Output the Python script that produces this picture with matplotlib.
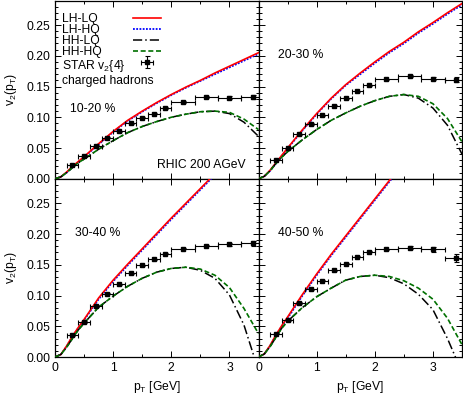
import matplotlib
matplotlib.use("Agg")
import matplotlib.pyplot as plt
from matplotlib.lines import Line2D
from matplotlib.ticker import MultipleLocator, FormatStrFormatter

plt.rcParams['font.family'] = ['Liberation Sans', 'DejaVu Sans']
plt.rcParams['mathtext.default'] = 'regular'
FS = 8.7
plt.rcParams['font.size'] = FS

# ---------------- data ----------------
pt = [0, 0.1, 0.2, 0.3, 0.4, 0.5, 0.75, 1.0, 1.25, 1.5, 1.75, 2.0, 2.25, 2.5, 2.75, 3.0, 3.25, 3.5]

# 10-20 %
lhlq_1020 = [0, 0.003, 0.011, 0.020, 0.028, 0.036, 0.057, 0.077, 0.095, 0.110, 0.124, 0.137, 0.149, 0.160, 0.172, 0.183, 0.194, 0.205]
lhhq_1020 = [0, 0.003, 0.010, 0.019, 0.027, 0.035, 0.056, 0.076, 0.094, 0.109, 0.123, 0.136, 0.148, 0.159, 0.170, 0.181, 0.192, 0.203]
hhlq_1020 = [0, 0.003, 0.010, 0.018, 0.026, 0.032, 0.048, 0.062, 0.075, 0.085, 0.093, 0.100, 0.105, 0.109, 0.110, 0.106, 0.092, 0.069]
hhhq_1020 = [0, 0.003, 0.010, 0.018, 0.026, 0.032, 0.048, 0.062, 0.075, 0.085, 0.093, 0.100, 0.105, 0.109, 0.110, 0.108, 0.097, 0.080]

# 20-30 %
lhlq_2030 = [0, 0.004, 0.014, 0.026, 0.038, 0.050, 0.079, 0.106, 0.131, 0.153, 0.172, 0.190, 0.207, 0.222, 0.239, 0.254, 0.270, 0.285]
lhhq_2030 = [0, 0.004, 0.013, 0.025, 0.037, 0.049, 0.078, 0.105, 0.130, 0.152, 0.170, 0.188, 0.205, 0.220, 0.237, 0.252, 0.268, 0.283]
hhlq_2030 = [0, 0.004, 0.013, 0.025, 0.035, 0.044, 0.063, 0.080, 0.095, 0.107, 0.118, 0.127, 0.134, 0.137, 0.131, 0.115, 0.087, 0.040]
hhhq_2030 = [0, 0.004, 0.013, 0.025, 0.035, 0.044, 0.063, 0.080, 0.095, 0.107, 0.118, 0.127, 0.134, 0.137, 0.134, 0.122, 0.098, 0.060]

# 30-40 %
lhlq_3040 = [0, 0.004, 0.018, 0.034, 0.048, 0.061, 0.096, 0.125, 0.151, 0.176, 0.201, 0.226, 0.250, 0.274, 0.298, 0.322, 0.346, 0.370]
lhhq_3040 = [0, 0.004, 0.017, 0.033, 0.047, 0.060, 0.094, 0.123, 0.149, 0.174, 0.199, 0.224, 0.248, 0.272, 0.296, 0.320, 0.344, 0.368]
hhlq_3040 = [0, 0.004, 0.016, 0.030, 0.044, 0.055, 0.081, 0.099, 0.115, 0.128, 0.138, 0.144, 0.146, 0.141, 0.128, 0.101, 0.052, -0.022]
hhhq_3040 = [0, 0.004, 0.016, 0.030, 0.044, 0.055, 0.081, 0.099, 0.115, 0.128, 0.138, 0.144, 0.146, 0.143, 0.133, 0.113, 0.079, 0.038]

# 40-50 %
lhlq_4050 = [0, 0.005, 0.019, 0.036, 0.051, 0.065, 0.101, 0.135, 0.167, 0.197, 0.227, 0.257, 0.287, 0.316, 0.345, 0.373, 0.400, 0.430]
lhhq_4050 = [0, 0.005, 0.018, 0.035, 0.050, 0.063, 0.099, 0.133, 0.165, 0.195, 0.225, 0.255, 0.285, 0.314, 0.343, 0.371, 0.398, 0.428]
hhlq_4050 = [0, 0.005, 0.017, 0.032, 0.047, 0.058, 0.080, 0.098, 0.112, 0.125, 0.131, 0.133, 0.129, 0.119, 0.102, 0.077, 0.030, -0.025]
hhhq_4050 = [0, 0.005, 0.017, 0.032, 0.047, 0.058, 0.080, 0.098, 0.112, 0.125, 0.131, 0.133, 0.131, 0.124, 0.112, 0.094, 0.063, 0.020]

# STAR v2{4} charged hadrons
star_pt = [0.3, 0.5, 0.7, 0.9, 1.1, 1.3, 1.5, 1.7, 1.9, 2.2, 2.6, 3.0, 3.4]
star_pt_err = [0.1, 0.1, 0.1, 0.1, 0.1, 0.1, 0.1, 0.1, 0.1, 0.2, 0.2, 0.2, 0.2]
star_1020 = [0.023, 0.037, 0.054, 0.067, 0.077, 0.090, 0.0995, 0.106, 0.115, 0.125, 0.133, 0.132, 0.133]
star_1020_err = [0.001, 0.001, 0.001, 0.001, 0.001, 0.001, 0.001, 0.001, 0.001, 0.001, 0.001, 0.002, 0.004]
star_2030 = [0.031, 0.050, 0.072, 0.089, 0.103, 0.119, 0.131, 0.142, 0.152, 0.162, 0.167, 0.163, 0.161]
star_2030_err = [0.001, 0.001, 0.001, 0.001, 0.001, 0.001, 0.001, 0.001, 0.001, 0.001, 0.001, 0.002, 0.004]
star_3040 = [0.035, 0.057, 0.083, 0.103, 0.118, 0.136, 0.149, 0.159, 0.168, 0.176, 0.181, 0.183, 0.185]
star_3040_err = [0.001, 0.001, 0.001, 0.001, 0.001, 0.001, 0.001, 0.001, 0.001, 0.001, 0.001, 0.002, 0.004]
star_4050 = [0.038, 0.060, 0.088, 0.110, 0.124, 0.141, 0.152, 0.163, 0.171, 0.175, 0.178, 0.175, 0.161]
star_4050_err = [0.001, 0.001, 0.001, 0.001, 0.001, 0.001, 0.001, 0.001, 0.001, 0.001, 0.003, 0.004, 0.007]

centralities = ["10-20 %", "20-30 %", "30-40 %", "40-50 %"]
series_labels = ["LH-LQ", "LH-HQ", "HH-LQ", "HH-HQ", "STAR v$_2${4}"]

panels = [
    (lhlq_1020, lhhq_1020, hhlq_1020, hhhq_1020, star_1020, star_1020_err),
    (lhlq_2030, lhhq_2030, hhlq_2030, hhhq_2030, star_2030, star_2030_err),
    (lhlq_3040, lhhq_3040, hhlq_3040, hhhq_3040, star_3040, star_3040_err),
    (lhlq_4050, lhhq_4050, hhlq_4050, hhhq_4050, star_4050, star_4050_err),
]

# ---------------- figure ----------------
W, H = 463, 397
fig = plt.figure(figsize=(W / 100, H / 100), dpi=100)
L, R, T, B = 55 / W, 462 / W, 1 - 0.5 / H, 1 - 357 / H
pw, ph = (R - L) / 2, (T - B) / 2
axes = []
for i in range(4):
    r, c = divmod(i, 2)
    ax = fig.add_axes([L + c * pw, B + (1 - r) * ph, pw, ph])
    axes.append(ax)

red = '#ff0000'
blue = '#0000ff'
green = '#007000'

for i, ax in enumerate(axes):
    lhlq, lhhq, hhlq, hhhq, sv, se = panels[i]
    h_blue, = ax.plot(pt, lhhq, color=blue, lw=1.3, ls=(0, (1, 0.8)), zorder=2.8)
    h_red, = ax.plot(pt, lhlq, color=red, lw=1.2, zorder=2.9)
    h_black, = ax.plot(pt, hhlq, color='black', lw=1.1, ls=(0, (6, 2, 1, 2)), zorder=3)
    h_green, = ax.plot(pt, hhhq, color=green, lw=1.2, ls=(0, (3, 1.6)), zorder=3.1)
    h_star = ax.errorbar(star_pt, sv, xerr=star_pt_err, yerr=se, fmt='s', ms=2.3,
                         color='black', ecolor='black', elinewidth=0.8, capsize=1.8,
                         capthick=0.8, zorder=4)
    ax.set_xlim(0, 3.5)
    ax.set_ylim(0, 0.2899)
    ax.xaxis.set_major_locator(MultipleLocator(1))
    ax.xaxis.set_minor_locator(MultipleLocator(0.5))
    ax.yaxis.set_major_locator(MultipleLocator(0.05))
    ax.yaxis.set_minor_locator(MultipleLocator(0.01))
    ax.yaxis.set_major_formatter(FormatStrFormatter('%.2f'))
    ax.tick_params(which='both', direction='in', top=True, right=True, width=0.7,
                   labelsize=FS, pad=3.5)
    ax.tick_params(which='major', length=4)
    ax.tick_params(which='minor', length=2)
    for s in ax.spines.values():
        s.set_linewidth(0.9)
    r, c = divmod(i, 2)
    if c == 1:
        ax.tick_params(labelleft=False)
    else:
        ax.set_ylabel('v$_2$(p$_T$)', fontsize=FS)
    if r == 0:
        ax.tick_params(labelbottom=False)
    else:
        ax.set_xlabel('p$_T$ [GeV]', fontsize=FS, labelpad=4)
    ax.text(0.34 if i != 0 else 0.26, 0.201 if i != 0 else 0.114, centralities[i],
            fontsize=FS, ha='left', va='center')

    if i == 0:
        handles = [h_red, h_blue, h_black, h_green, h_star]
        blanks = [Line2D([], [], ls='none') for _ in handles]
        legA = ax.legend(blanks, series_labels, loc='upper left',
                         bbox_to_anchor=(0.034, 0.93), handlelength=0, handletextpad=0,
                         frameon=False, borderpad=0, borderaxespad=0, labelspacing=-0.07,
                         fontsize=FS)
        ax.add_artist(legA)
        ax.legend(handles, [' '] * 5, loc='upper left',
                  bbox_to_anchor=(0.383, 0.93), handlelength=2.3, handletextpad=0,
                  frameon=False, borderpad=0, borderaxespad=0, labelspacing=-0.07,
                  fontsize=FS)
        ax.text(0.12, 0.159, 'charged hadrons', fontsize=FS, ha='left', va='center')
        ax.text(1.75, 0.022, 'RHIC 200 AGeV', fontsize=FS, ha='left', va='center')

axes[0].yaxis.set_label_coords(-0.175, 0.5)
axes[2].yaxis.set_label_coords(-0.175, 0.5)

fig.savefig('out.png', dpi=100)
